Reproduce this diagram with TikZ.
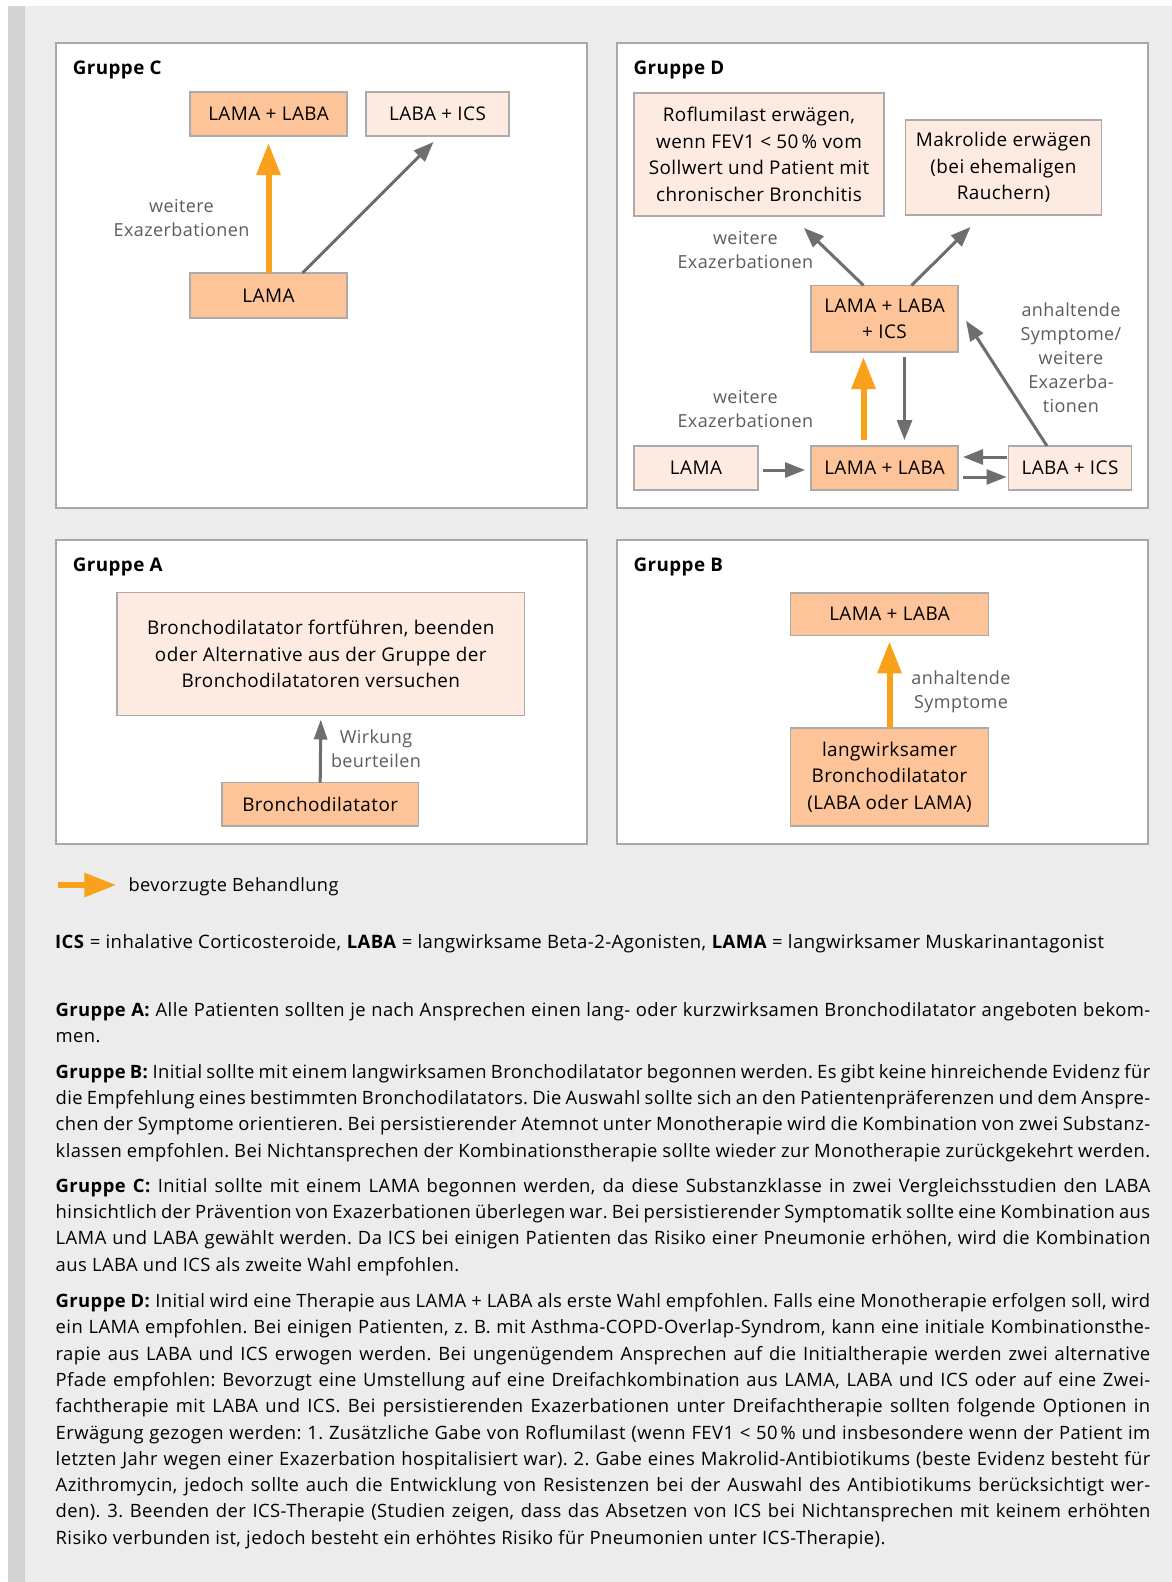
\documentclass[tikz,border=0pt]{standalone}
\usepackage{fontspec}
\setmainfont{Open Sans}[LetterSpace=2.3]
\usetikzlibrary{arrows.meta}
\definecolor{pagegray}{HTML}{ECECEC}
\definecolor{stripegray}{HTML}{D2D2D2}
\definecolor{panelline}{HTML}{A8A8A8}
\definecolor{boxline}{HTML}{ABABAB}
\definecolor{firstfill}{HTML}{FDC49A}
\definecolor{secondfill}{HTML}{FDEBE1}
\definecolor{bestorange}{HTML}{F9A11B}
\definecolor{arrowgray}{HTML}{6E6E6E}
\definecolor{notegray}{HTML}{5C5C5C}
\frenchspacing
\hyphenpenalty=10000
\exhyphenpenalty=10000
\tolerance=10000
\hbadness=10000
\tikzset{
  panel/.style={draw=panelline, fill=white, line width=1.5pt},
  therapy/.style={draw=boxline, line width=1.5pt, inner sep=0pt, outer sep=0pt,
    align=center, font=\fontsize{18.9}{26.6}\selectfont},
  first/.style={therapy, fill=firstfill},
  second/.style={therapy, fill=secondfill},
  grouptitle/.style={anchor=west, inner sep=0pt, font=\bfseries\fontsize{18.8}{24}\selectfont},
  note/.style={align=center, text=notegray, inner sep=0pt, font=\fontsize{18}{24}\selectfont},
  best/.style={draw=bestorange, line width=6pt, -{Triangle[length=32pt,width=23pt]}},
  other/.style={draw=arrowgray, line width=3pt, -{Triangle[length=20pt,width=15pt]}},
  bodytext/.style={anchor=north west, inner sep=0pt, text width=1094.5pt, align=justify,
    font=\fontsize{18.4}{26.3}\selectfont}
}

\begin{document}
\begin{tikzpicture}[x=1pt,y=-1pt]
\useasboundingbox (0,0) rectangle (1172,1582);
    % background
    \fill[pagegray] (8,6) rectangle (1172,1582);
    \fill[stripegray] (8,6) rectangle (25,1582);
    \draw[panel] (56,43) rectangle (587,508);
    \draw[panel] (617,43) rectangle (1148,508);
    \draw[panel] (56,540) rectangle (587,844);
    \draw[panel] (617,540) rectangle (1148,844);

    % Gruppe C
    \node[grouptitle] (C_title) at (72.6,69.6) {Gruppe C};
    \node[first, minimum width=157pt, minimum height=44pt] (C_dual) at (268.5,114) {LAMA + LABA};
    \node[second, minimum width=143pt, minimum height=44pt] (C_ics) at (437.5,114) {LABA + ICS};
    \node[first, minimum width=157pt, minimum height=45pt] (C_lama) at (268.5,295.5) {LAMA};
    \draw[best, shorten >=7pt] (C_lama.north) -- (C_dual.south);
    \draw[other] ([xshift=34pt]C_lama.north) -- ([xshift=-4pt,yshift=-6pt]C_ics.south);
    \node[note] (C_note) at (181.5,218) {weitere\\Exazerbationen};

    % Gruppe D
    \node[grouptitle] (D_title) at (633.4,69.6) {Gruppe D};
    \node[second, minimum width=250pt, minimum height=123pt] (D_roflu) at (759,154.5)
        {Roflumilast erwägen,\\wenn FEV1 < 50\,\% vom\\Sollwert und Patient mit\\chronischer Bronchitis};
    \node[second, minimum width=196pt, minimum height=95pt] (D_makro) at (1003.5,167.5)
        {Makrolide erwägen\\(bei ehemaligen\\Rauchern)};
    \node[first, minimum width=147pt, minimum height=66.6pt] (D_triple) at (884.5,318.7) {LAMA + LABA\\+ ICS};
    \node[second, minimum width=124pt, minimum height=44pt] (D_lama) at (696,468) {LAMA};
    \node[first, minimum width=147pt, minimum height=44pt] (D_dual) at (884.5,468) {LAMA + LABA};
    \node[second, minimum width=123pt, minimum height=44pt] (D_ics) at (1070,468) {LABA + ICS};
    \draw[other] ([xshift=-21pt]D_triple.north) -- ([xshift=45pt,yshift=-12pt]D_roflu.south);
    \draw[other] ([xshift=27pt]D_triple.north) -- ([xshift=-33pt,yshift=-12pt]D_makro.south);
    \draw[best] ([xshift=-21pt,yshift=6pt]D_dual.north) -- ([xshift=-21pt,yshift=-5pt]D_triple.south);
    \draw[other] ([xshift=20pt,yshift=-5pt]D_triple.south) -- ([xshift=20pt,yshift=6pt]D_dual.north);
    \draw[other] ([xshift=5pt,yshift=-2pt]D_lama.east) -- ([xshift=-6pt,yshift=-2pt]D_dual.west);
    \draw[other] ([xshift=-2pt,yshift=11pt]D_ics.west) -- ([xshift=5pt,yshift=11pt]D_dual.east);
    \draw[other] ([xshift=5pt,yshift=-9pt]D_dual.east) -- ([xshift=-2pt,yshift=-9pt]D_ics.west);
    \draw[other] ([xshift=-23pt]D_ics.north) -- ([xshift=8pt,yshift=-2pt]D_triple.east);
    \node[note] (D_note_top) at (745.4,250) {weitere\\Exazerbationen};
    \node[note] (D_note_low) at (745.4,408.5) {weitere\\Exazerbationen};
    \node[note] (D_note_right) at (1071,357.5) {anhaltende\\Symptome/\\weitere\\Exazerba-\\tionen};

    % Gruppe A
    \node[grouptitle] (A_title) at (72.6,566.8) {Gruppe A};
    \node[second, minimum width=407.5pt, minimum height=123pt] (A_keep) at (320.8,654)
        {Bronchodilatator fortführen, beenden\\oder Alternative aus der Gruppe der\\Bronchodilatatoren versuchen};
    \node[first, minimum width=196.7pt, minimum height=43.4pt] (A_bron) at (320.2,804.3) {Bronchodilatator};
    \draw[arrowgray, line width=3pt, -{Triangle[length=20pt,width=13pt]}] (A_bron.north) -- ([yshift=-4pt]A_keep.south);
    \node[note] (A_note) at (376,748.3) {Wirkung\\beurteilen};

    % Gruppe B
    \node[grouptitle] (B_title) at (633.4,566.8) {Gruppe B};
    \node[first, minimum width=197.7pt, minimum height=42.4pt] (B_dual) at (889.5,614.2) {LAMA + LABA};
    \node[first, minimum width=197.7pt, minimum height=98pt] (B_long) at (889.5,777)
        {langwirksamer\\Bronchodilatator\\(LABA oder LAMA)};
    \draw[best, shorten >=6pt] (B_long.north) -- (B_dual.south);
    \node[note] (B_note) at (961,691.5) {anhaltende\\Symptome};

    % legend
    \node[anchor=base west, inner sep=0pt, font=\fontsize{18.2}{24}\selectfont] (legend) at (128.3,891) {bevorzugte Behandlung};
    \coordinate (legend_start) at (57.5,885);
    \draw[best, shorten >=12pt] (legend_start) -- (legend.west |- legend_start);
    \node[anchor=base west, inner sep=0pt, font=\fontsize{18.5}{24}\selectfont] (abbrev) at (55,948)
        {\textbf{ICS} = inhalative Corticosteroide, \textbf{LABA} = langwirksame Beta-2-Agonisten, \textbf{LAMA} = langwirksamer Muskarinantagonist};

    % Erläuterungen
    \node[bodytext] (text_A) at (55.5,997.7) {\strut\textbf{Gruppe A:} Alle Patienten sollten je nach Ansprechen einen lang- oder kurzwirksamen Bronchodilatator angeboten bekom-\linebreak men.};
    \node[bodytext] (text_B) at (55.5,1059.6) {\strut\textbf{Gruppe B:} Initial sollte mit einem langwirksamen Bronchodilatator begonnen werden. Es gibt keine hinreichende Evidenz für\linebreak die Empfehlung eines bestimmten Bronchodilatators. Die Auswahl sollte sich an den Patientenpräferenzen und dem Anspre-\linebreak chen der Symptome orientieren. Bei persistierender Atemnot unter Monotherapie wird die Kombination von zwei Substanz-\linebreak klassen empfohlen. Bei Nichtansprechen der Kombinationstherapie sollte wieder zur Monotherapie zurückgekehrt werden.};
    \node[bodytext] (text_C) at (55.5,1173.6) {\strut\textbf{Gruppe C:} Initial sollte mit einem LAMA begonnen werden, da diese Substanzklasse in zwei Vergleichsstudien den LABA\linebreak hinsichtlich der Prävention von Exazerbationen überlegen war. Bei persistierender Symptomatik sollte eine Kombination aus\linebreak LAMA und LABA gewählt werden. Da ICS bei einigen Patienten das Risiko einer Pneumonie erhöhen, wird die Kombination\linebreak aus LABA und ICS als zweite Wahl empfohlen.};
    \node[bodytext] (text_D) at (55.5,1288.9) {\strut\textbf{Gruppe D:} Initial wird eine Therapie aus LAMA + LABA als erste Wahl empfohlen. Falls eine Monotherapie erfolgen soll, wird\linebreak ein LAMA empfohlen. Bei einigen Patienten, z.~B. mit Asthma-COPD-Overlap-Syndrom, kann eine initiale Kombinationsthe-\linebreak rapie aus LABA und ICS erwogen werden. Bei ungenügendem Ansprechen auf die Initialtherapie werden zwei alternative\linebreak Pfade empfohlen: Bevorzugt eine Umstellung auf eine Dreifachkombination aus LAMA, LABA und ICS oder auf eine Zwei-\linebreak fachtherapie mit LABA und ICS. Bei persistierenden Exazerbationen unter Dreifachtherapie sollten folgende Optionen in\linebreak Erwägung gezogen werden: 1. Zusätzliche Gabe von Roflumilast (wenn FEV1 < 50\,\% und insbesondere wenn der Patient im\linebreak letzten Jahr wegen einer Exazerbation hospitalisiert war). 2. Gabe eines Makrolid-Antibiotikums (beste Evidenz besteht für\linebreak Azithromycin, jedoch sollte auch die Entwicklung von Resistenzen bei der Auswahl des Antibiotikums berücksichtigt wer-\linebreak den). 3. Beenden der ICS-Therapie (Studien zeigen, dass das Absetzen von ICS bei Nichtansprechen mit keinem erhöhten\linebreak Risiko verbunden ist, jedoch besteht ein erhöhtes Risiko für Pneumonien unter ICS-Therapie).};
\end{tikzpicture}
\end{document}
